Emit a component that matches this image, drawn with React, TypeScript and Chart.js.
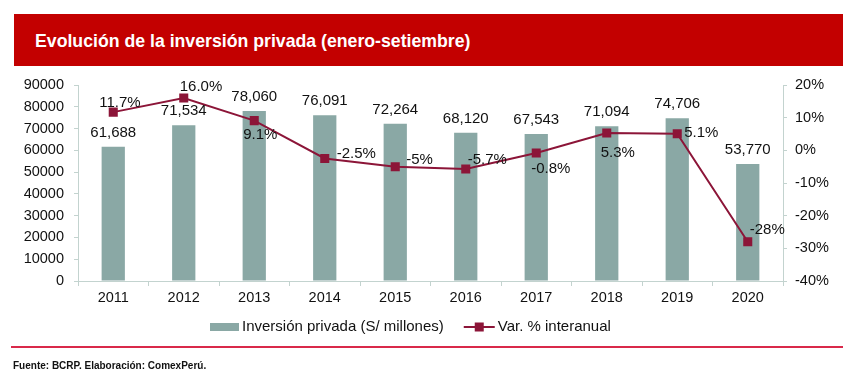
import React, { useEffect, useRef } from 'react';
import { Chart, registerables } from 'chart.js';

Chart.register(...registerables);

const years = ['2011', '2012', '2013', '2014', '2015', '2016', '2017', '2018', '2019', '2020'];
const investment = [61688, 71534, 78060, 76091, 72264, 68120, 67543, 71094, 74706, 53770];
const variation = [11.7, 16.0, 9.1, -2.5, -5, -5.7, -0.8, 5.3, 5.1, -28];
const variationText = ['11.7%', '16.0%', '9.1%', '-2.5%', '-5%', '-5.7%', '-0.8%', '5.3%', '5.1%', '-28%'];
const leftAxis = { min: 0, max: 90000, step: 10000 };
const rightAxis = { min: -40, max: 20, step: 10 };
const seriesNames = ['Inversión privada (S/ millones)', 'Var. % interanual'];

// label placement relative to each marker: [dx to text left edge, dy to text middle]
const lineLabelOffsets: [number, number][] = [
  [-14, -9], [-4, -11], [-11, 14], [12, -5], [11, -7], [2, -9], [-5, 16], [-6, 20], [7, -1], [2, -12],
];

const FONT = '"Liberation Sans", Arial, sans-serif';
const BAR_COLOR = '#8aa8a5';
const LINE_COLOR = '#8c1538';
const AXIS_COLOR = '#c3d3cf';
const TEXT_COLOR = '#111111';

const labelsPlugin = {
  id: 'customLabels',
  afterDatasetsDraw(chart: any) {
    const ctx = chart.ctx;
    ctx.save();
    ctx.font = `15px ${FONT}`;
    ctx.fillStyle = TEXT_COLOR;
    ctx.textBaseline = 'middle';
    const barMeta = chart.getDatasetMeta(0);
    barMeta.data.forEach((el: any, i: number) => {
      ctx.textAlign = 'center';
      ctx.fillText(investment[i].toLocaleString('en-US'), el.x, el.y - 14);
    });
    const lineMeta = chart.getDatasetMeta(1);
    lineMeta.data.forEach((el: any, i: number) => {
      const [dx, dy] = lineLabelOffsets[i];
      ctx.textAlign = 'left';
      ctx.fillText(variationText[i], el.x + dx, el.y + dy);
    });
    ctx.restore();
  },
  afterDraw(chart: any) {
    const ctx = chart.ctx;
    ctx.save();
    ctx.font = `15px ${FONT}`;
    ctx.fillStyle = TEXT_COLOR;
    ctx.textBaseline = 'middle';
    ctx.textAlign = 'left';
    const y = 327;
    let x = 210;
    ctx.fillStyle = BAR_COLOR;
    ctx.fillRect(x, y - 4, 29, 8);
    x += 32;
    ctx.fillStyle = TEXT_COLOR;
    ctx.fillText(seriesNames[0], x, y);
    x += ctx.measureText(seriesNames[0]).width + 20;
    ctx.strokeStyle = LINE_COLOR;
    ctx.lineWidth = 2;
    ctx.beginPath();
    ctx.moveTo(x, y);
    ctx.lineTo(x + 31, y);
    ctx.stroke();
    ctx.fillStyle = LINE_COLOR;
    ctx.fillRect(x + 15.5 - 4.5, y - 4.5, 9, 9);
    x += 34;
    ctx.fillStyle = TEXT_COLOR;
    ctx.fillText(seriesNames[1], x, y);
    ctx.restore();
  },
};

export default function App() {
  const canvasRef = useRef<HTMLCanvasElement | null>(null);

  useEffect(() => {
    if (!canvasRef.current) return;
    const chart = new Chart(canvasRef.current, {
      type: 'bar',
      data: {
        labels: years,
        datasets: [
          {
            type: 'bar',
            label: seriesNames[0],
            data: investment,
            backgroundColor: BAR_COLOR,
            borderWidth: 0,
            categoryPercentage: 1,
            barPercentage: 0.33,
            yAxisID: 'y',
            order: 2,
          },
          {
            type: 'line',
            label: seriesNames[1],
            data: variation,
            borderColor: LINE_COLOR,
            backgroundColor: LINE_COLOR,
            borderWidth: 2,
            pointStyle: 'rect',
            pointRadius: 6.4,
            pointBackgroundColor: LINE_COLOR,
            pointBorderColor: LINE_COLOR,
            pointBorderWidth: 0,
            tension: 0,
            yAxisID: 'y1',
            order: 1,
          },
        ] as any,
      },
      options: {
        responsive: false,
        animation: false,
        maintainAspectRatio: false,
        layout: { padding: { top: 85, bottom: 76, left: 0, right: 0 } },
        plugins: { legend: { display: false }, tooltip: { enabled: false } },
        scales: {
          x: {
            offset: true,
            grid: { display: true, drawOnChartArea: false, drawTicks: true, tickLength: 5, color: AXIS_COLOR, offset: true },
            border: { display: true, color: AXIS_COLOR, width: 1 },
            ticks: { font: { family: FONT, size: 14.5 }, color: TEXT_COLOR, padding: 3, maxRotation: 0 },
            afterFit: (s: any) => { s.height = 30; },
          },
          y: {
            position: 'left',
            min: leftAxis.min,
            max: leftAxis.max,
            grid: { display: true, drawOnChartArea: false, drawTicks: true, tickLength: 4, color: AXIS_COLOR },
            border: { display: true, color: AXIS_COLOR, width: 1 },
            ticks: {
              stepSize: leftAxis.step,
              font: { family: FONT, size: 14.5 },
              color: TEXT_COLOR,
              padding: 10,
              callback: (v: any) => String(v),
            },
            afterFit: (s: any) => { s.width = 78; },
          },
          y1: {
            position: 'right',
            min: rightAxis.min,
            max: rightAxis.max,
            grid: { display: true, drawOnChartArea: false, drawTicks: true, tickLength: 4, color: AXIS_COLOR },
            border: { display: true, color: AXIS_COLOR, width: 1 },
            ticks: {
              stepSize: rightAxis.step,
              font: { family: FONT, size: 14.5 },
              color: TEXT_COLOR,
              padding: 8,
              callback: (v: any) => `${v}%`,
            },
            afterFit: (s: any) => { s.width = 75; },
          },
        },
      } as any,
      plugins: [labelsPlugin],
    });
    return () => chart.destroy();
  }, []);

  return (
    <div style={{ position: 'absolute', left: 0, top: 0, width: 858, height: 387, background: '#ffffff', fontFamily: FONT }}>
      <div
        style={{
          position: 'absolute', left: 14, top: 14, width: 829, height: 52, background: '#c30000',
          color: '#ffffff', fontWeight: 'bold', fontSize: 17.7, lineHeight: '54px', paddingLeft: 21, boxSizing: 'border-box',
          whiteSpace: 'nowrap',
        }}
      >
        Evolución de la inversión privada (enero-setiembre)
      </div>
      <canvas ref={canvasRef} width={858} height={387} style={{ position: 'absolute', left: 0, top: 0, width: 858, height: 387 }} />
      <div style={{ position: 'absolute', left: 11, top: 346, width: 832, height: 2, background: '#d9294a' }} />
      <div style={{ position: 'absolute', left: 13, top: 358, fontSize: 10, fontWeight: 'bold', color: '#111111', whiteSpace: 'nowrap', lineHeight: '15px' }}>
        Fuente: BCRP. Elaboración: ComexPerú.
      </div>
    </div>
  );
}
